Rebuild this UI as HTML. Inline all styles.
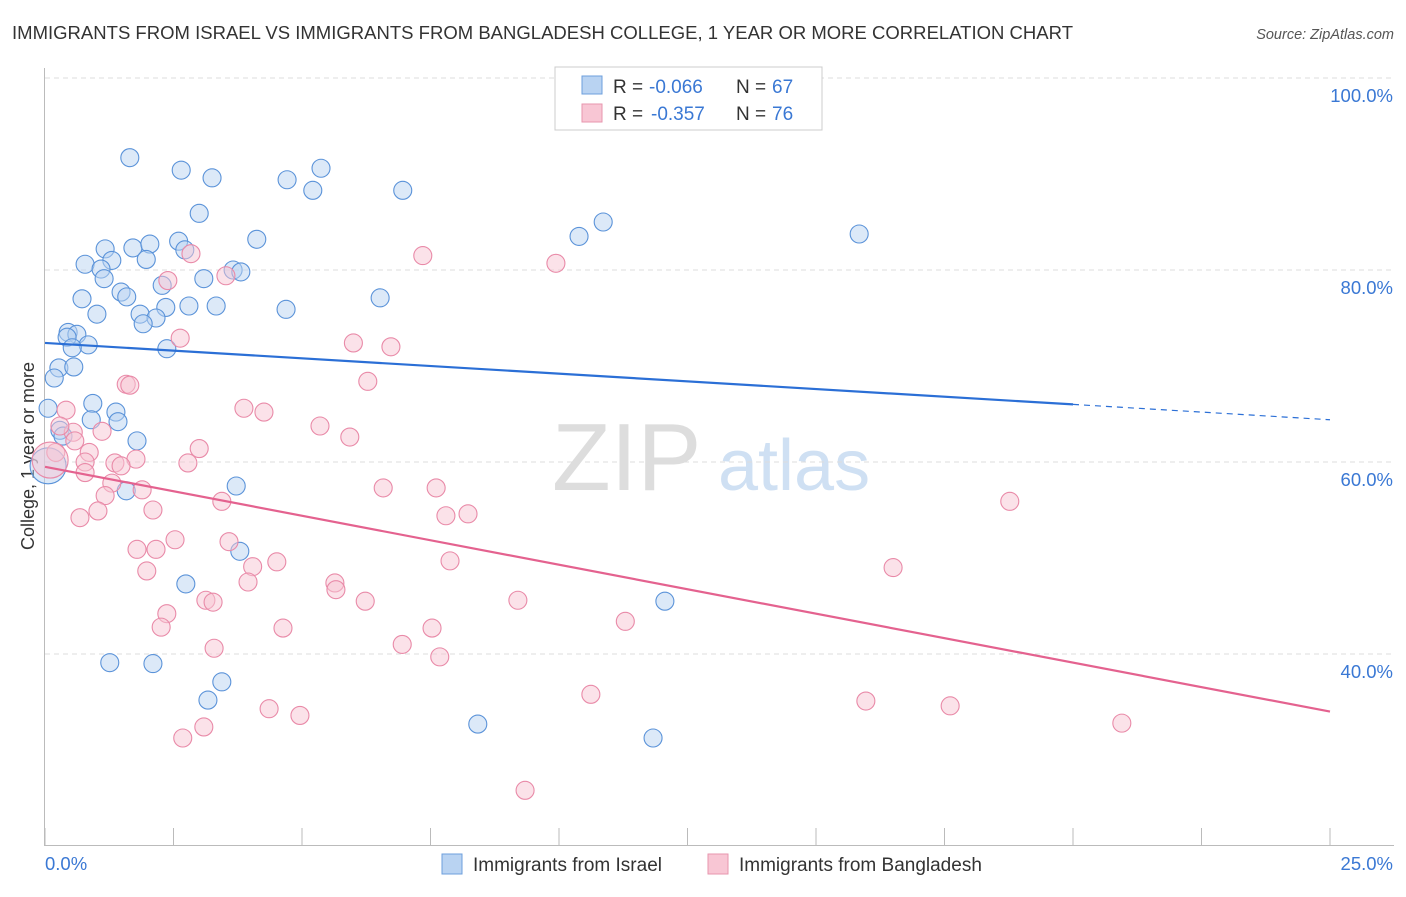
<!DOCTYPE html>
<html><head><meta charset="utf-8"><style>
body{margin:0;background:#fff;font-family:"Liberation Sans",sans-serif;}
svg text{font-family:"Liberation Sans",sans-serif;}
</style></head><body>
<svg id="chart" width="1406" height="892" xmlns="http://www.w3.org/2000/svg">
<text x="12" y="39" font-size="18.5" fill="#333" textLength="1061">IMMIGRANTS FROM ISRAEL VS IMMIGRANTS FROM BANGLADESH COLLEGE, 1 YEAR OR MORE CORRELATION CHART</text>
<text x="1394" y="39" font-size="14.5" fill="#555" font-style="italic" text-anchor="end">Source: ZipAtlas.com</text>
<text x="0" y="0" font-size="18" fill="#333" text-anchor="middle" transform="translate(34,456) rotate(-90)">College, 1 year or more</text>
<g><text x="552" y="490" font-size="96" fill="#ddd" font-family="Liberation Serif">ZIP</text><text x="718" y="490" font-size="72" fill="#cfe0f3">atlas</text></g>
<g id="grid"></g><g id="axes"></g><g id="pts"></g><g id="trend"></g>
<g>
<rect x="555" y="67" width="267" height="63" fill="#fff" stroke="#ccc"/>
<rect x="582" y="76" width="20" height="18" fill="#b9d3f2" stroke="#6d9fdc"/>
<rect x="582" y="104" width="20" height="18" fill="#f8c6d4" stroke="#e796ae"/>
<text x="613" y="93" font-size="19" fill="#333">R =</text>
<text x="649" y="93" font-size="19" fill="#3a78d4">-0.066</text>
<text x="736" y="93" font-size="19" fill="#333">N =</text>
<text x="772" y="93" font-size="19" fill="#3a78d4">67</text>
<text x="613" y="120" font-size="19" fill="#333">R =</text>
<text x="651" y="120" font-size="19" fill="#3a78d4">-0.357</text>
<text x="736" y="120" font-size="19" fill="#333">N =</text>
<text x="772" y="120" font-size="19" fill="#3a78d4">76</text>
</g>
<g>
<rect x="442" y="854" width="20" height="20" fill="#b9d3f2" stroke="#6d9fdc"/>
<text x="473" y="871" font-size="19" fill="#333">Immigrants from Israel</text>
<rect x="708" y="854" width="20" height="20" fill="#f8c6d4" stroke="#e796ae"/>
<text x="739" y="871" font-size="19" fill="#333">Immigrants from Bangladesh</text>
</g>
</svg>
<script>
const xTicks=[0,2.5,5,7.5,10,12.5,15,17.5,20,22.5,25];
const yTicks=[40,60,80,100];
const yTickLabels=["40.0%","60.0%","80.0%","100.0%"];
const israelX=[1.65,2.65,3.25,4.71,5.37,5.21,6.96,3.0,10.86,10.39,15.84,1.17,1.71,2.04,2.6,2.72,4.12,1.97,1.3,0.78,1.09,3.66,3.81,1.15,3.09,2.28,1.48,1.59,0.72,6.52,2.8,3.33,2.35,4.69,1.01,1.85,2.16,1.91,0.45,0.62,0.43,0.84,0.53,2.37,0.27,0.56,0.18,0.93,0.06,1.38,0.9,1.42,0.29,0.35,1.79,3.72,1.58,3.79,2.74,12.06,1.26,2.1,3.44,3.17,8.42,11.83,0.06];
const israelY=[91.7,90.4,89.6,89.4,90.6,88.3,88.3,85.9,85.0,83.5,83.75,82.2,82.3,82.7,83.0,82.1,83.2,81.1,81.0,80.6,80.1,80.0,79.8,79.1,79.1,78.4,77.7,77.2,77.0,77.1,76.25,76.25,76.1,75.9,75.4,75.4,75.0,74.4,73.5,73.3,73.0,72.2,71.9,71.8,69.8,69.9,68.75,66.1,65.6,65.2,64.4,64.2,63.3,62.7,62.2,57.5,57.0,50.7,47.3,45.5,39.1,39.0,37.1,35.2,32.7,31.25,59.6];
const israelBig=[66];
const bangX=[7.35,9.94,2.84,3.52,2.39,2.63,6.0,6.73,6.28,1.58,1.65,0.41,3.87,4.26,5.35,5.93,0.55,0.29,1.11,0.58,3.0,0.86,0.21,0.78,1.77,1.36,2.78,1.48,0.78,1.3,1.89,6.58,7.61,1.17,3.44,18.77,1.03,2.1,7.8,8.23,0.68,2.53,3.58,1.79,2.16,7.88,4.51,4.04,1.98,16.5,3.95,5.64,5.66,3.13,3.27,6.23,9.2,2.37,11.29,2.26,4.63,7.53,3.29,6.95,7.68,10.62,15.97,17.61,4.36,4.96,20.95,3.09,2.68,9.34,0.1];
const bangY=[81.5,80.7,81.7,79.4,78.9,72.9,72.4,72.0,68.4,68.1,68.0,65.4,65.6,65.2,63.75,62.6,63.1,63.75,63.2,62.2,61.4,61.0,61.0,60.0,60.3,59.9,59.9,59.6,58.9,57.8,57.1,57.3,57.3,56.5,55.9,55.9,54.9,55.0,54.4,54.6,54.2,51.9,51.7,50.9,50.9,49.7,49.6,49.1,48.65,49.0,47.5,47.4,46.7,45.6,45.4,45.5,45.6,44.2,43.4,42.8,42.7,42.7,40.6,41.0,39.7,35.8,35.1,34.6,34.3,33.6,32.8,32.4,31.25,25.8,60.2];
const bangBig=[74];
const israelTrend=[72.4,66.0,64.4]; // at x=0, 20, 25
const bangTrend=[59.5,34.0]; // at x=0, 25
const NS="http://www.w3.org/2000/svg";
const X=v=>45+v/25*1285, Y=v=>78+(100-v)*9.6;
function mk(t,a,p){const e=document.createElementNS(NS,t);for(const k in a)e.setAttribute(k,a[k]);p.appendChild(e);return e;}
const grid=document.getElementById('grid'),axes=document.getElementById('axes'),pts=document.getElementById('pts'),tr=document.getElementById('trend');
yTicks.forEach((t,i)=>{
 const l=mk('line',{x1:45,x2:1394,y1:Y(t),y2:Y(t),stroke:'#ddd','stroke-dasharray':'5,4'},grid);
 
 
 const tx=mk('text',{x:1393,y:Y(t)+24,'font-size':18.5,fill:'#3a78d4','text-anchor':'end'},grid);
 tx.textContent=yTickLabels[i];
 
 
});
const ax=mk('line',{x1:44.5,x2:44.5,y1:68,y2:846,stroke:'#bbb'},axes);


const bx=mk('line',{x1:45,x2:1394,y1:845.5,y2:845.5,stroke:'#bbb'},axes);


xTicks.forEach(t=>{const l=mk('line',{x1:X(t),x2:X(t),y1:828,y2:846,stroke:'#bbb'},axes);
 
 });
const x0=mk('text',{x:45,y:870,'font-size':18.5,fill:'#3a78d4'},axes);x0.textContent='0.0%';


const x1=mk('text',{x:1393,y:870,'font-size':18.5,fill:'#3a78d4','text-anchor':'end'},axes);x1.textContent='25.0%';


function dots(xs,ys,big,fill,stroke,name){xs.forEach((v,i)=>{
 const c=mk('circle',{cx:X(v),cy:Y(ys[i]),r:big.includes(i)?18:9,fill:fill,'fill-opacity':0.5,stroke:stroke,'stroke-width':1.1},pts);
 
 });}
dots(israelX,israelY,israelBig,'#b9d3f2','#5b93d9','point-israel');
dots(bangX,bangY,bangBig,'#f8c6d4','#e98aa8','point-bangladesh');
const t1=mk('line',{x1:X(0),y1:Y(israelTrend[0]),x2:X(20),y2:Y(israelTrend[1]),stroke:'#2b6fd6','stroke-width':2.2},tr);


const t2=mk('line',{x1:X(20),y1:Y(israelTrend[1]),x2:X(25),y2:Y(israelTrend[2]),stroke:'#2b6fd6','stroke-width':1.2,'stroke-dasharray':'6,5'},tr);


const t3=mk('line',{x1:X(0),y1:Y(bangTrend[0]),x2:X(25),y2:Y(bangTrend[1]),stroke:'#e4628f','stroke-width':2.2},tr);


</script>
</body></html>
